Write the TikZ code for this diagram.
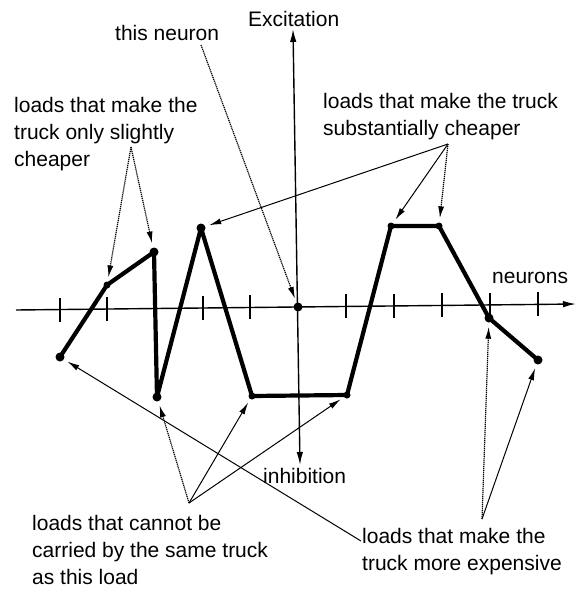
\documentclass[tikz,border=0pt]{standalone}
\usepackage{fontspec}
\setmainfont{Liberation Sans}
\usetikzlibrary{arrows.meta}
\begin{document}
\begin{tikzpicture}[x=1pt,y=-1pt,
  lbl/.style={inner sep=0pt,font=\fontsize{21}{27}\selectfont,align=left},
  dot/.style={circle,fill=black,inner sep=0pt,minimum size=9pt},
  axisline/.style={line width=1.4pt},
  curve/.style={line width=4.2pt,line join=round},
  tick/.style={line width=1.2pt},
  ptr/.style={line width=1pt,-{Latex[length=12pt,width=6pt]},shorten >=4pt},
  dptr/.style={ptr,line width=1.2pt,dash pattern=on 1.2pt off 0.8pt}]
\useasboundingbox (0,0) rectangle (582,589);
% axes
\coordinate (hl) at (16,310);
\coordinate (hr) at (576,304);
\coordinate (vt) at (293,29);
\coordinate (vb) at (300,465);
\draw[axisline,-{Latex[length=13pt,width=6.5pt]}] (hl) -- (hr);
\draw[axisline,{Latex[length=13pt,width=6.5pt]}-{Latex[length=13pt,width=6.5pt]}] (vb) -- (vt);
\foreach \x in {60,107,155,203,250,346,394,442,490,538}{
  \pgfmathsetmacro{\yy}{310-(\x-16)*6/560}
  \draw[tick] (\x,\yy-12) -- (\x,\yy+12);
}
% data points
\node[dot] (p1) at (60,357) {};
\node[dot,minimum size=7pt] (p2) at (107,285) {};
\node[dot] (p3) at (154,252) {};
\node[dot] (p4) at (157,397) {};
\node[dot] (p5) at (201,228) {};
\node[dot,minimum size=7pt] (p6) at (252,396) {};
\node[dot,minimum size=7pt] (p7) at (347,395) {};
\node[dot,minimum size=7pt] (p8) at (391,226) {};
\node[dot,minimum size=7pt] (p9) at (439,226) {};
\node[dot] (p10) at (489,318) {};
\node[dot] (p11) at (538,360) {};
\node[dot] (c) at (298,307) {};
\draw[curve] (p1.center) -- (p2.center) -- (p3.center) -- (p4.center) -- (p5.center) -- (p6.center) -- (p7.center) -- (p8.center) -- (p9.center) -- (p10.center) -- (p11.center);
% labels
\node[lbl,anchor=base west] (exc) at (248,27) {Excitation};
\node[lbl,anchor=base west] (tn) at (115,40) {this neuron};
\node[lbl,anchor=north west] (slight) at (14,97) {loads that make the\\truck only slightly\\cheaper};
\node[lbl,anchor=north west] (subst) at (323,93) {loads that make the truck\\substantially cheaper};
\node[lbl,anchor=base west] (neur) at (492,283) {neurons};
\node[lbl,anchor=base west] (inh) at (263,483) {inhibition};
\node[lbl,anchor=north west] (cannot) at (32,515) {loads that cannot be\\carried by the same truck\\as this load};
\node[lbl,anchor=north west] (expens) at (362,528) {loads that make the\\truck more expensive};
% pointer origins
\coordinate (tno) at (201,45);
\coordinate (slo) at (131,147);
\coordinate (suo) at (448,144);
\coordinate (cao) at (189,503);
\coordinate (exo) at (482,519);
\coordinate (exl) at (361,541);
% pointers
\draw[dptr] (tno) -- (c);
\draw[dptr] (slo) -- (p2);
\draw[dptr] (slo) -- (p3);
\draw[ptr] (suo) -- (p5);
\draw[ptr] (suo) -- (p8);
\draw[dptr] (suo) -- (p9);
\draw[dptr] (cao) -- (p4);
\draw[ptr] (cao) -- (p6);
\draw[ptr] (cao) -- (p7);
\draw[dptr] (exo) -- (p10);
\draw[ptr] (exo) -- (p11);
\draw[ptr] (exl) -- (p1);
\end{tikzpicture}
\end{document}
